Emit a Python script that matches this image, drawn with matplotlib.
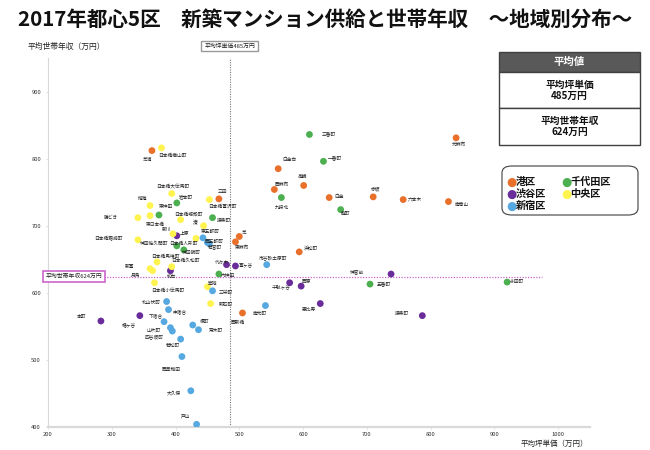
import matplotlib
matplotlib.use("Agg")
import matplotlib.pyplot as plt
from matplotlib.patches import Rectangle, FancyBboxPatch

plt.rcParams['font.family'] = ['Noto Sans CJK JP', 'DejaVu Sans']

title = "2017年都心5区　新築マンション供給と世帯年収　～地域別分布～"
x_label = "平均坪単価（万円）"
y_label = "平均世帯年収（万円）"
avg_price = 485
avg_income = 624
x_ticks = [200, 300, 400, 500, 600, 700, 800, 900, 1000]
y_ticks = [400, 500, 600, 700, 800, 900]

# ---- data: (name, price, income) per ward ----
minato_names = ["芝浦", "三田", "芝", "東麻布", "西麻布", "白金台", "高輪", "白金", "赤坂",
                "六本木", "南青山", "元麻布", "浜松町", "西新橋"]
minato_price = [363, 468, 500, 494, 555, 561, 601, 641, 710, 757, 828, 840, 594, 505]
minato_income = [812, 740, 684, 676, 754, 785, 760, 742, 743, 739, 736, 831, 661, 570]

chiyoda_names = ["三番町", "一番町", "九段北", "麹町", "五番町", "永田町", "岩本町", "東神田",
                 "猿楽町", "神田佐久間町", "神田錦町", "内神田"]
chiyoda_price = [610, 632, 566, 659, 705, 920, 402, 374, 458, 402, 413, 468]
chiyoda_income = [836, 796, 742, 724, 613, 616, 734, 716, 712, 670, 664, 628]

shibuya_names = ["上原", "代々木", "富ヶ谷", "初台", "本町", "幡ヶ谷", "千駄ヶ谷", "西原",
                 "恵比寿", "神宮前", "猿楽町"]
shibuya_price = [402, 480, 494, 392, 283, 344, 579, 597, 627, 738, 787]
shibuya_income = [685, 642, 640, 633, 558, 566, 615, 610, 584, 628, 566]

shinjuku_names = ["東五軒町", "西五軒町", "若宮町", "市谷砂土原町", "三栄町", "北山伏町", "南元町",
                  "中落合", "下落合", "榎町", "山吹町", "四谷坂町", "荒木町", "若松町",
                  "西早稲田", "大久保", "戸山"]
shinjuku_price = [443, 450, 453, 543, 458, 386, 541, 389, 382, 427, 392, 395, 436, 408, 410, 424, 433]
shinjuku_income = [682, 675, 673, 642, 603, 587, 581, 575, 557, 552, 548, 543, 545, 531, 505, 454, 404]

chuo_names = ["日本橋横山町", "日本橋大伝馬町", "晴海", "勝どき", "東日本橋", "日本橋蛎殻町",
              "日本橋富沢町", "湊", "新川", "日本橋箱崎町", "日本橋人形町", "日本橋馬喰町",
              "日本橋久松町", "新富", "月島", "日本橋小伝馬町", "築地", "明石町"]
chuo_price = [378, 394, 360, 341, 360, 408, 453, 444, 396, 341, 432, 371, 394, 360, 364, 367, 450, 455]
chuo_income = [816, 748, 730, 712, 715, 709, 739, 700, 688, 679, 681, 646, 639, 636, 633, 615, 609, 584]

ward_names = ["港区", "千代田区", "渋谷区", "中央区", "新宿区"]
ward_colors = ["#E8702A", "#4CAF50", "#6A2C9A", "#FFF44F", "#56A8E0"]

# label offsets (pixels, label centre relative to dot)
offsets = {
    "芝浦": (-4, -9), "三田": (4, 7), "芝": (5, 4), "東麻布": (7, -6), "西麻布": (8, 5),
    "白金台": (11, 9), "高輪": (-1, 9), "白金": (10, 1), "赤坂": (2, 8), "六本木": (12, 1),
    "南青山": (13, -3), "元麻布": (3, -7), "浜松町": (12, 4), "西新橋": (-5, -9),
    "三番町": (19, 1), "一番町": (11, 4), "九段北": (1, -10), "麹町": (5, -4), "五番町": (14, 0),
    "永田町": (10, 1), "岩本町": (9, 6), "東神田": (7, 8), "猿楽町_g": (11, -3),
    "神田佐久間町": (-23, 3), "神田錦町": (8, -3), "内神田": (9, -1),
    "上原": (8, 2), "代々木": (-4, 2), "富ヶ谷": (10, 0), "初台": (1, -6), "本町": (-19, 4),
    "幡ヶ谷": (-11, -10), "千駄ヶ谷": (-8, -5), "西原": (5, 5), "恵比寿": (-11, -6),
    "神宮前": (-34, 2), "猿楽町_p": (-20, 2),
    "東五軒町": (7, 6), "西五軒町": (7, 1), "若宮町": (6, -3), "市谷砂土原町": (6, 7),
    "三栄町": (13, -2), "北山伏町": (-15, -1), "南元町": (-6, -8), "中落合": (11, -2),
    "下落合": (-8, 6), "榎町": (12, 4), "山吹町": (-17, -2), "四谷坂町": (-18, -6),
    "荒木町": (17, -1), "若松町": (-8, -6), "西早稲田": (-11, -13), "大久保": (-17, -3),
    "戸山": (-11, 8),
    "日本橋横山町": (11, -7), "日本橋大伝馬町": (1, 7), "晴海": (-8, 7), "勝どき": (-27, 0),
    "東日本橋": (5, -9), "日本橋蛎殻町": (8, 6), "日本橋富沢町": (13, -7), "湊": (-8, 3),
    "新川": (-6, 4), "日本橋箱崎町": (-30, 2), "日本橋人形町": (-13, -5), "日本橋馬喰町": (8, 6),
    "日本橋久松町": (14, 6), "新富": (-20, 2), "月島": (-17, -5), "日本橋小伝馬町": (13, -8),
    "築地": (5, 3), "明石町": (15, -1),
}

W, H = 650, 450
fig = plt.figure(figsize=(W / 100, H / 100), dpi=100)
fig.patch.set_facecolor("white")


def fx(x):
    return x / W


def fy(y):
    return 1 - y / H


ax = fig.add_axes([fx(48), fy(427), (590 - 48) / W, (427 - 58) / H])
ax.set_xlim(200, 1050)
ax.set_ylim(400, 950)
for s in ["top", "right"]:
    ax.spines[s].set_visible(False)
ax.spines["left"].set_color("#d9d9d9")
ax.spines["left"].set_linewidth(0.8)
ax.spines["bottom"].set_color("#d9d9d9")
ax.spines["bottom"].set_linewidth(1.6)
ax.set_xticks(x_ticks)
ax.set_yticks(y_ticks)
ax.tick_params(axis="both", labelsize=4.2, colors="#d9d9d9", labelcolor="#333333", length=1.5, width=0.6)
ax.tick_params(axis="y", pad=3.5)
ax.tick_params(axis="x", pad=2)

groups = [
    (minato_names, minato_price, minato_income, ward_colors[0], "_g0"),
    (chiyoda_names, chiyoda_price, chiyoda_income, ward_colors[1], "_g"),
    (shibuya_names, shibuya_price, shibuya_income, ward_colors[2], "_p"),
    (chuo_names, chuo_price, chuo_income, ward_colors[3], "_y"),
    (shinjuku_names, shinjuku_price, shinjuku_income, ward_colors[4], "_b"),
]

# mean lines
ax.axvline(avg_price, color="#777777", linestyle=(0, (1, 1.2)), linewidth=0.8, zorder=1)
ax.plot([288, 975], [avg_income, avg_income], color="#CC66CC", linestyle=(0, (1, 1.2)),
        linewidth=0.9, zorder=1, clip_on=False)

for names, xs, ys, col, suf in groups:
    ax.scatter(xs, ys, s=24, color=col, edgecolors="none", zorder=3)
    for n, x, y in zip(names, xs, ys):
        key = n + suf if (n + suf) in offsets else n
        dx, dy = offsets.get(key, (8, 0))
        ax.annotate(n, (x, y), xytext=(dx, dy), textcoords="offset pixels",
                    ha="center", va="center", fontsize=3.4, color="#222222", zorder=4)

# mean annotation boxes
ax.annotate("平均坪単価485万円", xy=(avg_price, 1.0), xycoords=("data", "axes fraction"),
            xytext=(0, 12), textcoords="offset pixels", ha="center", va="center",
            fontsize=4.2, color="#222222", annotation_clip=False,
            bbox=dict(boxstyle="square,pad=0.5", fc="white", ec="#999999", lw=1.0))
ax.annotate("平均世帯年収624万円", xy=(241, avg_income), xycoords="data",
            ha="center", va="center", fontsize=4.2, color="#222222", annotation_clip=False,
            bbox=dict(boxstyle="square,pad=0.5", fc="white", ec="#CC66CC", lw=1.2))

# axis titles
fig.text(fx(28), fy(47), y_label, fontsize=5.6, ha="left", va="center", color="#222222")
fig.text(fx(588), fy(444), x_label, fontsize=5.4, ha="right", va="center", color="#222222")

# title
fig.text(fx(18), fy(19), title, fontsize=14.8, ha="left", va="center", color="#111111",
         fontweight="bold")

# average value box
fig.patches.append(Rectangle((fx(499), fy(72)), (640 - 499) / W, 20 / H, transform=fig.transFigure,
                             facecolor="#595959", edgecolor="#404040", lw=1))
fig.patches.append(Rectangle((fx(499), fy(108)), (640 - 499) / W, 36 / H, transform=fig.transFigure,
                             facecolor="white", edgecolor="#404040", lw=1))
fig.patches.append(Rectangle((fx(499), fy(145)), (640 - 499) / W, 37 / H, transform=fig.transFigure,
                             facecolor="white", edgecolor="#404040", lw=1))
fig.text(fx(569.5), fy(62), "平均値", fontsize=7.5, ha="center", va="center", color="white",
         fontweight="bold")
fig.text(fx(569.5), fy(90), "平均坪単価\n" + f"{avg_price}万円", fontsize=7, ha="center", va="center",
         color="#111111", fontweight="bold", linespacing=1.15)
fig.text(fx(569.5), fy(126.5), "平均世帯年収\n" + f"{avg_income}万円", fontsize=7, ha="center", va="center",
         color="#111111", fontweight="bold", linespacing=1.15)

# legend box
fig.patches.append(FancyBboxPatch((fx(502), fy(215)), (638 - 502) / W, (215 - 166) / H,
                                  boxstyle="round,pad=0,rounding_size=0.015",
                                  transform=fig.transFigure, facecolor="white",
                                  edgecolor="#404040", lw=0.8))
leg_pos = [(506, 182), (561, 182), (506, 194), (561, 194), (506, 206)]
for (lx, ly), i in zip(leg_pos, range(len(ward_names))):
    fig.text(fx(lx), fy(ly), "●", fontsize=8.5, ha="left", va="center", color=ward_colors[i],
             family="DejaVu Sans")
    fig.text(fx(lx + 9.5), fy(ly), ward_names[i], fontsize=7.3, ha="left", va="center",
             color="#111111", fontweight="bold")

fig.savefig("out.png", dpi=100, facecolor="white")
